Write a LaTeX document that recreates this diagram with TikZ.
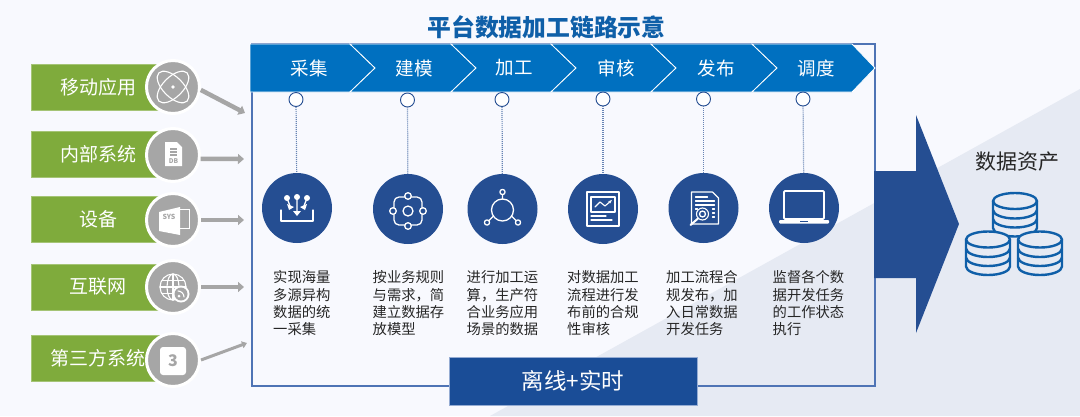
\documentclass[tikz,border=0pt]{standalone}
\usepackage{fontspec}
\setmainfont{Noto Sans CJK SC}
\usetikzlibrary{arrows.meta}
\definecolor{pagebg}{HTML}{F8F9FE}
\definecolor{pagetri}{HTML}{E6EAF3}
\definecolor{bandblue}{HTML}{0070C0}
\definecolor{deepblue}{HTML}{254E92}
\definecolor{boxblue}{HTML}{1A4D97}
\definecolor{framelin}{HTML}{4F74B5}
\definecolor{leaf}{HTML}{7FAB3C}
\definecolor{ash}{HTML}{A6A6A6}
\definecolor{stackblue}{HTML}{0F5FA8}
\tikzset{
  source bar/.style={fill=leaf, draw=leaf!70!white, line width=.5pt, text=white, minimum width=134pt,
      minimum height=46pt, inner sep=0pt, font=\fontsize{19}{20}\selectfont, xshift=67pt},
  source disc/.style={circle, fill=ash, draw=white, line width=3pt, minimum size=53pt, inner sep=0pt},
  feed/.style={draw=ash, line width=4.5pt, -{Triangle[length=6pt,width=10pt]}},
  feed thin/.style={draw=ash, line width=3pt, -{Triangle[length=5pt,width=7pt]}},
  stage label/.style={text=white, inner sep=0pt, font=\fontsize{18.5}{20}\selectfont},
  knob/.style={circle, fill=white, draw=deepblue, line width=.9pt, minimum size=14pt, inner sep=0pt},
  step disc/.style={circle, fill=deepblue, minimum size=70pt, inner sep=0pt},
  tie/.style={draw=deepblue!70!white, line width=1.2pt, dash pattern=on 1pt off 1pt},
  step text/.style={anchor=north west, align=left, inner sep=0pt, text=black!85,
      font=\fontsize{14.3}{17.3}\selectfont},
  glyph/.style={draw=white, line width=1.3pt, line cap=round, line join=round},
  soft/.style={draw=white, line width=1.1pt, line cap=round, line join=round},
  stack line/.style={draw=stackblue, line width=2.4pt, line join=round}
}
% source bar, disc and the arrow into the frame
\def\Source#1#2#3#4#5#6#7{%
  \node[source bar] (bar#1) at (31,#2) {#4};
  \node[source disc] (src#1) at (173,#3) {};
  \coordinate (in#1) at #6;
  \draw[#7] (src#1.#5) -- (in#1);
}
% one stage: knob, dotted tie, disc, text
\def\Step#1#2#3#4#5#6#7{%
  \node[knob] (knob#1) at (#2,#3) {};
  \node[step disc] (step#1) at (#4,#5) {};
  \draw[tie] (knob#1) -- (step#1);
  \node[step text] (text#1) at (#6,270.5) {#7};
}
% one pile of the data stack
\def\DbPile#1#2{%
  \begin{scope}[shift={(#1,#2)}]
    \fill[pagetri] (-22,0) -- (-22,27) arc[start angle=180,end angle=0,x radius=22,y radius=8.5] -- (22,0) arc[start angle=0,end angle=-180,x radius=22,y radius=8.5] -- cycle;
    \draw[stack line] (0,0) ellipse[x radius=22,y radius=8];
    \draw[stack line] (-22,0) -- (-22,27) arc[start angle=180,end angle=0,x radius=22,y radius=8.5] -- (22,0);
    \foreach \d in {9,18}
      \draw[stack line] (-22,\d) arc[start angle=180,end angle=0,x radius=22,y radius=8.5];
  \end{scope}
}
\begin{document}
\begin{tikzpicture}[x=1pt,y=-1pt]
\useasboundingbox (0,0) rectangle (1080,416);
\fill[pagebg] (0,0) rectangle (1080,416);
\fill[pagetri] (490,416) -- (1080,89) -- (1080,416) -- cycle;
\node[text=stackblue, inner sep=0pt, font=\fontsize{23.8}{26}\selectfont\bfseries] (title) at (546.5,27) {平台数据加工链路示意};

% frame
\draw[framelin, line width=1.2pt] (252,44) rectangle (875,386);

% sources
\Source{1}{87}{87}{移动应用}{-6}{(245,113)}{feed}
\Source{2}{154.5}{155}{内部系统}{-8}{(244,159)}{feed}
\Source{3}{219}{220}{设备}{0}{(244,220)}{feed}
\Source{4}{287}{287}{互联网}{0}{(244,287)}{feed}
\Source{5}{358.5}{360}{第三方系统}{0}{(247,343)}{feed thin}

% source icons
\begin{scope}[shift={(173,87)}]
  \draw[soft, rotate=45] (0,0) ellipse[x radius=20,y radius=10];
  \draw[soft, rotate=-45] (0,0) ellipse[x radius=20,y radius=10];
  \fill[white] (0,0) circle[radius=1.8];
\end{scope}
\begin{scope}[shift={(173,155)}]
  \fill[white] (-8,-13) -- (4,-13) -- (9,-8) -- (9,11) -- (-8,11) -- cycle;
  \foreach \d in {-6,-3,0}
    \draw[ash, line width=1.2pt] (-3,\d) -- (4,\d);
  \node[text=ash, inner sep=0pt, font=\fontsize{6.5}{7}\selectfont\bfseries] (dbtag) at (0.5,6) {DB};
\end{scope}
\begin{scope}[shift={(173,220)}]
  \draw[white, line width=1pt] (2,-11) rectangle (16,8);
  \fill[white] (4,-3) circle[radius=3];
  \fill[white] (-14,-8) -- (7,-13) -- (7,15) -- (-14,11) -- cycle;
  \node[text=ash, inner sep=0pt, font=\fontsize{7}{7}\selectfont\bfseries] (systag) at (-4,-3) {SYS};
\end{scope}
\begin{scope}[shift={(173,287)}]
  \draw[soft] (0,0) circle[radius=13];
  \draw[soft] (0,0) ellipse[x radius=6,y radius=13];
  \draw[soft] (0,-13) -- (0,13) (-13,0) -- (13,0) (-11,-6.5) -- (11,-6.5) (-11,6.5) -- (11,6.5);
  \fill[white] (8,7) circle[radius=8.5];
  \fill[ash] (8,7) circle[radius=6.5];
  \draw[soft] (5,4) arc[start angle=-90,end angle=0,radius=6];
  \fill[white] (6,9) circle[radius=1.5];
\end{scope}
\begin{scope}[shift={(173,360)}]
  \fill[white, rounded corners=3pt] (-13,-13) rectangle (13,15);
  \node[text=ash, inner sep=0pt, font=\fontsize{16}{16}\selectfont\bfseries] (threetag) at (0,1) {3};
\end{scope}

% band
\foreach \a/\b/\t/\p in {250/350/375/250,350/451/476/375,451/551/576/476,551/651/676/576,651/752/777/676,752/852/875/777}
  \draw[white, fill=bandblue, line width=.8pt, line join=miter] (\a,44) -- (\b,44) -- (\t,68) -- (\b,92) -- (\a,92) -- (\p,68) -- cycle;
\node[stage label] (stage1) at (309,68) {采集};
\node[stage label] (stage2) at (414,68) {建模};
\node[stage label] (stage3) at (514,68) {加工};
\node[stage label] (stage4) at (616,68) {审核};
\node[stage label] (stage5) at (716,68) {发布};
\node[stage label] (stage6) at (816,68) {调度};

% stages
\Step{1}{296}{99.5}{297}{208}{273}{实现海量\\多源异构\\数据的统\\一采集}
\Step{2}{407.5}{100}{408}{209}{372.5}{按业务规则\\与需求，简\\建立数据存\\放模型}
\Step{3}{502}{99.5}{502.5}{209}{466.5}{进行加工运\\算，生产符\\合业务应用\\场景的数据}
\Step{4}{603}{99}{603}{209}{567}{对数据加工\\流程进行发\\布前的合规\\性审核}
\Step{5}{703.5}{99}{703.5}{208}{666}{加工流程合\\规发布，加\\入日常数据\\开发任务}
\Step{6}{803}{99}{804}{208}{772.5}{监督各个数\\据开发任务\\的工作状态\\执行}

% stage icons
\begin{scope}[shift={(297,208)}]
  \draw[glyph] (-16,2) -- (-16,13) -- (16,13) -- (16,2);
  \fill[white] (-10,-10) circle[radius=3] (0,-11) circle[radius=3] (10,-10) circle[radius=3];
  \draw[glyph] (-10,-10) -- (-7,-2) (0,-11) -- (0,6) (10,-10) -- (7,-2);
  \fill[white] (-10,-4) -- (-3,-1) -- (-8,2) -- cycle (10,-4) -- (3,-1) -- (8,2) -- cycle (-4,3) -- (4,3) -- (0,8) -- cycle;
\end{scope}
\begin{scope}[shift={(408,211)}]
  \draw[glyph, rounded corners=5pt] (-14,-14) rectangle (14,14);
  \draw[glyph, fill=deepblue] (0,0) circle[radius=5] (0,-15) circle[radius=3.3] (0,15) circle[radius=3.3] (-15,0) circle[radius=3.3] (15,0) circle[radius=3.3];
\end{scope}
\begin{scope}[shift={(502.5,210)}]
  \draw[glyph] (0,0) circle[radius=11];
  \draw[glyph] (0,-11) -- (0,-15) (-9,6) -- (-14,11) (9,6) -- (14,11);
  \draw[glyph, fill=deepblue] (0,-18) circle[radius=2.6] (-15.5,12.5) circle[radius=2.6] (15.5,12.5) circle[radius=2.6];
\end{scope}
\begin{scope}[shift={(603,209)}]
  \draw[glyph, line width=1.6pt] (-16,-17) rectangle (16,17);
  \draw[soft] (-12,-12) rectangle (12,3);
  \draw[soft, -{Stealth[length=4pt]}] (-8,-2) -- (-3,-7) -- (2,-3) -- (9,-9);
  \draw[soft] (-12,7) -- (3,7) (-12,11) -- (9,11);
\end{scope}
\begin{scope}[shift={(703.5,208)}]
  \draw[soft] (-12,-16) -- (9,-16) -- (15,-10) -- (15,16) -- (-12,16) -- cycle;
  \draw[soft] (-8,-11) -- (4,-11) (-8,-7) -- (11,-7) (-8,-3) -- (11,-3) (-8,1) -- (-6,1) (9,1) -- (11,1) (9,5) -- (11,5) (9,9) -- (11,9);
  \draw[soft, fill=deepblue] (-1,6) circle[radius=6];
  \draw[glyph] (-1,6) circle[radius=3];
  \draw[glyph, line width=2pt] (-5.5,10.5) -- (-13,17);
\end{scope}
\begin{scope}[shift={(804,208)}]
  \draw[glyph, line width=1.8pt, rounded corners=1pt] (-20,-17) rectangle (20,11);
  \fill[white, rounded corners=1pt] (-25,12) rectangle (25,15.5);
  \fill[deepblue] (-4,12.5) rectangle (4,14);
\end{scope}

% big arrow, result
\fill[deepblue] (874,171) -- (916,171) -- (916,115) -- (959,224) -- (916,333) -- (916,278) -- (874,278) -- cycle;
\node[text=black!85, inner sep=0pt, font=\fontsize{21}{22}\selectfont] (result) at (1017.5,162) {数据资产};
\DbPile{1015}{201}
\DbPile{988}{239.5}
\DbPile{1040}{239.5}

% bottom box
\node[fill=boxblue, draw=framelin!60!white, line width=.6pt, text=white, minimum width=248pt, minimum height=48pt, inner sep=0pt, font=\fontsize{22.5}{24}\selectfont] (mode) at (573,381) {离线+实时};
\end{tikzpicture}
\end{document}
